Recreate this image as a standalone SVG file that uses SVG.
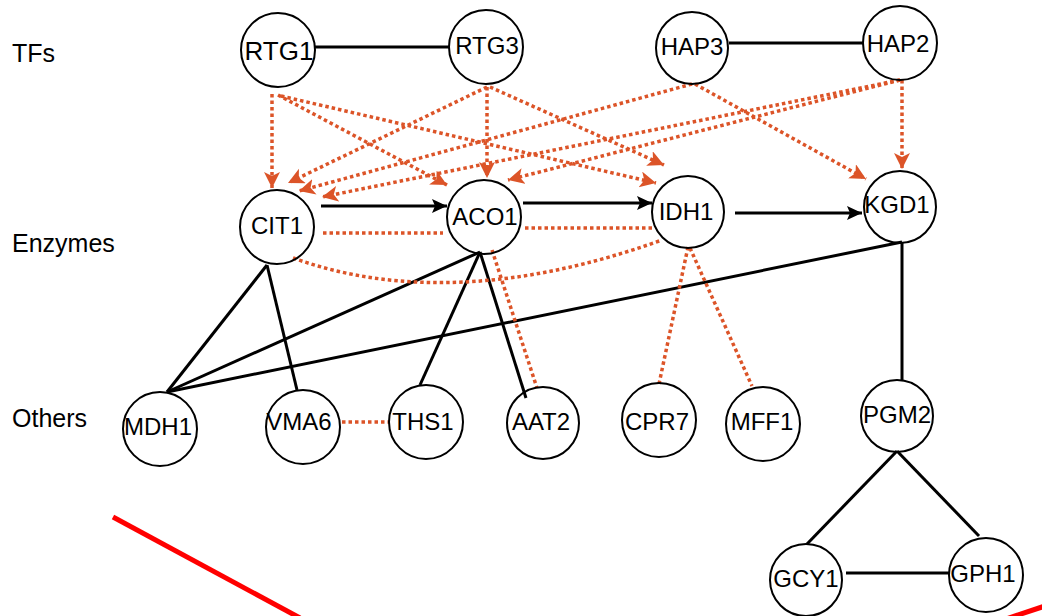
<svg xmlns="http://www.w3.org/2000/svg" width="1042" height="616" viewBox="0 0 1042 616">
<style>
.n{fill:none;stroke:#000;stroke-width:2}
.t{font-family:"Liberation Sans",Arial,sans-serif;font-size:24px;fill:#000;text-anchor:middle}
.lab{font-family:"Liberation Sans",Arial,sans-serif;font-size:25px;fill:#000}
.s{fill:none;stroke:#000;stroke-width:3}
.d{fill:none;stroke:#DC5428;stroke-width:3.5;stroke-dasharray:3.5 3}
.red{fill:none;stroke:#FF0000;stroke-width:5}
</style>
<defs>
<marker id="ab" markerUnits="userSpaceOnUse" markerWidth="18" markerHeight="18" refX="15" refY="7" orient="auto">
<path d="M0,0 L15,7 L0,14 L3,7 z" fill="#000"/>
</marker>
<marker id="ao" markerUnits="userSpaceOnUse" markerWidth="18" markerHeight="18" refX="16" refY="8" orient="auto">
<path d="M0,0 L16,8 L0,16 L4,8 z" fill="#DC5428"/>
</marker>
</defs>
<rect width="1042" height="616" fill="#fff"/>
<g id="labels">
<text class="lab" x="12" y="62">TFs</text>
<text class="lab" x="12" y="252">Enzymes</text>
<text class="lab" x="12" y="427">Others</text>
</g>
<g id="connectors">
<line class="s" x1="315" y1="47" x2="449" y2="47"/>
<line class="s" x1="729" y1="43" x2="863" y2="43"/>
<line class="s" x1="321" y1="206" x2="447" y2="206" marker-end="url(#ab)"/>
<line class="s" x1="523" y1="203" x2="652" y2="203" marker-end="url(#ab)"/>
<line class="s" x1="735" y1="213" x2="862" y2="213" marker-end="url(#ab)"/>
<line class="s" x1="267" y1="265" x2="167" y2="392"/>
<line class="s" x1="267" y1="265" x2="297" y2="390"/>
<line class="s" x1="480" y1="252" x2="167" y2="392"/>
<line class="s" x1="480" y1="252" x2="420" y2="385"/>
<line class="s" x1="480" y1="252" x2="526" y2="398"/>
<line class="s" x1="902" y1="242" x2="167" y2="392"/>
<line class="s" x1="902" y1="242" x2="902" y2="380"/>
<line class="s" x1="897" y1="451" x2="807" y2="544"/>
<line class="s" x1="897" y1="451" x2="979" y2="536"/>
<line class="s" x1="846" y1="573" x2="949" y2="573"/>
<line class="d" x1="272" y1="94" x2="272" y2="188" marker-end="url(#ao)"/>
<line class="d" x1="278" y1="95" x2="447" y2="185" marker-end="url(#ao)"/>
<line class="d" x1="281" y1="96" x2="656" y2="183" marker-end="url(#ao)"/>
<line class="d" x1="487" y1="87" x2="288" y2="183" marker-end="url(#ao)"/>
<line class="d" x1="487" y1="87" x2="487" y2="178" marker-end="url(#ao)"/>
<line class="d" x1="490" y1="87" x2="664" y2="165" marker-end="url(#ao)"/>
<line class="d" x1="692" y1="84" x2="299" y2="191" marker-end="url(#ao)"/>
<line class="d" x1="695" y1="84" x2="866" y2="179" marker-end="url(#ao)"/>
<line class="d" x1="900" y1="80" x2="322" y2="197" marker-end="url(#ao)"/>
<line class="d" x1="900" y1="80" x2="508" y2="180" marker-end="url(#ao)"/>
<line class="d" x1="902" y1="80" x2="902" y2="169" marker-end="url(#ao)"/>
<line class="d" x1="323" y1="233" x2="443" y2="233"/>
<line class="d" x1="525" y1="228" x2="652" y2="228"/>
<path class="d" d="M293,258 Q452,315 662,240"/>
<line class="d" x1="492" y1="250" x2="537" y2="388"/>
<line class="d" x1="342" y1="422" x2="390" y2="422"/>
<line class="d" x1="688" y1="247" x2="659" y2="384"/>
<line class="d" x1="690" y1="248" x2="752" y2="386"/>
</g>
<g id="RTG1"><circle class="n" cx="278" cy="50" r="37"/><text class="t" x="279" y="60" style="font-size:26px">RTG1</text></g>
<g id="RTG3"><circle class="n" cx="486" cy="47" r="37"/><text class="t" x="487" y="54">RTG3</text></g>
<g id="HAP3"><circle class="n" cx="692" cy="48" r="36"/><text class="t" x="692" y="55">HAP3</text></g>
<g id="HAP2"><circle class="n" cx="900" cy="43" r="37"/><text class="t" x="898" y="52">HAP2</text></g>
<g id="CIT1"><circle class="n" cx="277" cy="227" r="37"/><text class="t" x="277" y="234">CIT1</text></g>
<g id="ACO1"><circle class="n" cx="484" cy="217" r="37"/><text class="t" x="485" y="225">ACO1</text></g>
<g id="IDH1"><circle class="n" cx="688" cy="212" r="36"/><text class="t" x="686" y="220">IDH1</text></g>
<g id="KGD1"><circle class="n" cx="900" cy="207" r="36"/><text class="t" x="897" y="213">KGD1</text></g>
<g id="MDH1"><circle class="n" cx="160" cy="429" r="37"/><text class="t" x="158" y="435">MDH1</text></g>
<g id="VMA6"><circle class="n" cx="303" cy="427" r="37"/><text class="t" x="299" y="430">VMA6</text></g>
<g id="THS1"><circle class="n" cx="426" cy="422" r="37"/><text class="t" x="423" y="430">THS1</text></g>
<g id="AAT2"><circle class="n" cx="543" cy="423" r="36"/><text class="t" x="541" y="430">AAT2</text></g>
<g id="CPR7"><circle class="n" cx="659" cy="420" r="37"/><text class="t" x="657" y="430">CPR7</text></g>
<g id="MFF1"><circle class="n" cx="763" cy="424" r="37"/><text class="t" x="762" y="430">MFF1</text></g>
<g id="PGM2"><circle class="n" cx="897" cy="416" r="36"/><text class="t" x="897" y="423">PGM2</text></g>
<g id="GCY1"><circle class="n" cx="806" cy="580" r="36"/><text class="t" x="806" y="587">GCY1</text></g>
<g id="GPH1"><circle class="n" cx="986" cy="575" r="37"/><text class="t" x="983" y="582">GPH1</text></g>
<g id="marks">
<line class="red" x1="113" y1="517" x2="300" y2="618"/>
<line class="red" x1="1000" y1="621" x2="1045" y2="606"/>
</g>
</svg>
